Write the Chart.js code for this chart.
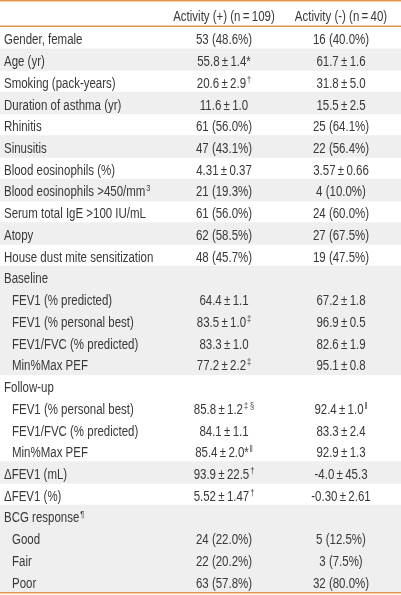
<!DOCTYPE html>
<html>
<head>
<meta charset="utf-8">
<script src="https://cdn.jsdelivr.net/npm/chart.js@4"></script>
<style>
  body { margin: 0; background: #fff; }
  #wrap { width: 401px; height: 595px; }
</style>
</head>
<body>
<div id="wrap"><canvas id="tbl" width="401" height="595"></canvas></div>
<script>
// table content
const columnHeaders = ["Activity (+) (n\u2009=\u2009109)", "Activity (-) (n\u2009=\u200940)"];

const rowLabels = [
  "Gender, female", "Age (yr)", "Smoking (pack-years)", "Duration of asthma (yr)",
  "Rhinitis", "Sinusitis", "Blood eosinophils (%)", "Blood eosinophils >450/mm",
  "Serum total IgE >100 IU/mL", "Atopy", "House dust mite sensitization",
  "Baseline", "FEV1 (% predicted)", "FEV1 (% personal best)", "FEV1/FVC (% predicted)", "Min%Max PEF",
  "Follow-up", "FEV1 (% personal best)", "FEV1/FVC (% predicted)", "Min%Max PEF",
  "\u0394FEV1 (mL)", "\u0394FEV1 (%)",
  "BCG response", "Good", "Fair", "Poor"
];
const labelMarks = ["", "", "", "", "", "", "", "3", "", "", "", "", "", "", "", "", "", "", "", "", "", "", "\u00b6", "", "", ""];

// 1 = sub-row of the group above
const subRow = [0, 0, 0, 0, 0, 0, 0, 0, 0, 0, 0, 0, 1, 1, 1, 1, 0, 1, 1, 1, 0, 0, 0, 1, 1, 1];

const activityPos = [
  "53 (48.6%)", "55.8\u2009\u00b1\u20091.4*", "20.6\u2009\u00b1\u20092.9", "11.6\u2009\u00b1\u20091.0",
  "61 (56.0%)", "47 (43.1%)", "4.31\u2009\u00b1\u20090.37", "21 (19.3%)",
  "61 (56.0%)", "62 (58.5%)", "48 (45.7%)",
  "", "64.4\u2009\u00b1\u20091.1", "83.5\u2009\u00b1\u20091.0", "83.3\u2009\u00b1\u20091.0", "77.2\u2009\u00b1\u20092.2",
  "", "85.8\u2009\u00b1\u20091.2", "84.1\u2009\u00b1\u20091.1", "85.4\u2009\u00b1\u20092.0*",
  "93.9\u2009\u00b1\u200922.5", "5.52\u2009\u00b1\u20091.47",
  "", "24 (22.0%)", "22 (20.2%)", "63 (57.8%)"
];
const activityPosMarks = ["", "", "\u2020", "", "", "", "", "", "", "", "", "", "", "\u2021", "", "\u2021",
  "", "\u2021 \u00a7", "", "\u2016", "\u2020", "\u2020", "", "", "", ""];

const activityNeg = [
  "16 (40.0%)", "61.7\u2009\u00b1\u20091.6", "31.8\u2009\u00b1\u20095.0", "15.5\u2009\u00b1\u20092.5",
  "25 (64.1%)", "22 (56.4%)", "3.57\u2009\u00b1\u20090.66", "4 (10.0%)",
  "24 (60.0%)", "27 (67.5%)", "19 (47.5%)",
  "", "67.2\u2009\u00b1\u20091.8", "96.9\u2009\u00b1\u20090.5", "82.6\u2009\u00b1\u20091.9", "95.1\u2009\u00b1\u20090.8",
  "", "92.4\u2009\u00b1\u20091.0", "83.3\u2009\u00b1\u20092.4", "92.9\u2009\u00b1\u20091.3",
  "-4.0\u2009\u00b1\u200945.3", "-0.30\u2009\u00b1\u20092.61",
  "", "5 (12.5%)", "3 (7.5%)", "32 (80.0%)"
];
const activityNegMarks = ["", "", "", "", "", "", "", "", "", "", "", "", "", "", "", "",
  "", "\u2016", "", "", "", "", "", "", "", ""];

const FONT = "'Liberation Sans', Arimo, Arial, sans-serif";
const SX = 0.82; // squeeze to mimic the condensed face
const TEXT = "#383838";
const RULE = "#e8954c";
const SHADE = "#efefef";
const TABLE_W = 401;
const COL1 = 224, COL2 = 341;

// a group is a top row plus its sub-rows; every other group is shaded
let g = -1;
const stripe = rowLabels.map((_, i) => {
  if (!subRow[i]) g++;
  return g % 2 === 1 ? [0, TABLE_W] : null;
});

function put(ctx, str, x, y, size) {
  ctx.save();
  ctx.font = size + "px " + FONT;
  ctx.translate(x, y);
  ctx.scale(SX, 1);
  ctx.fillText(str, 0, 0);
  ctx.restore();
}

function widthOf(ctx, str, size) {
  ctx.font = size + "px " + FONT;
  return ctx.measureText(str).width * SX;
}

function drawWithMark(ctx, text, mark, cx, y, align) {
  const w = widthOf(ctx, text, 14);
  const mw = mark ? widthOf(ctx, mark, 9) + 1 : 0;
  const x = align === "left" ? cx : cx - (w + mw) / 2;
  put(ctx, text, x, y, 14);
  if (mark) put(ctx, mark, x + w + 1, y - 5, 9);
}

const tableText = {
  id: "tableText",
  afterDatasetsDraw(chart) {
    const { ctx, scales: { x, y }, chartArea } = chart;
    ctx.save();
    ctx.fillStyle = TEXT;
    ctx.textAlign = "left";
    ctx.textBaseline = "alphabetic";

    // header row
    const hy = chartArea.top / 2 + 7;
    drawWithMark(ctx, columnHeaders[0], "", x.getPixelForValue(COL1), hy, "center");
    drawWithMark(ctx, columnHeaders[1], "", x.getPixelForValue(COL2), hy, "center");

    rowLabels.forEach((label, i) => {
      const py = y.getPixelForValue(i) + 6.5;
      drawWithMark(ctx, label, labelMarks[i], x.getPixelForValue(subRow[i] ? 12 : 4), py, "left");
      if (activityPos[i]) drawWithMark(ctx, activityPos[i], activityPosMarks[i], x.getPixelForValue(COL1), py, "center");
      if (activityNeg[i]) drawWithMark(ctx, activityNeg[i], activityNegMarks[i], x.getPixelForValue(COL2), py, "center");
    });

    // rules
    ctx.strokeStyle = RULE;
    ctx.lineWidth = 1.5;
    [0.75, chartArea.top - 0.75, chartArea.bottom + 0.75].forEach((ly) => {
      ctx.beginPath();
      ctx.moveTo(0, ly);
      ctx.lineTo(TABLE_W, ly);
      ctx.stroke();
    });
    ctx.restore();
  }
};

new Chart(document.getElementById("tbl"), {
  type: "bar",
  data: {
    labels: rowLabels,
    datasets: [{
      data: stripe,
      backgroundColor: SHADE,
      borderWidth: 0,
      barPercentage: 1,
      categoryPercentage: 1
    }]
  },
  options: {
    indexAxis: "y",
    responsive: false,
    animation: false,
    devicePixelRatio: 1,
    layout: { padding: { top: 27, bottom: 3, left: 0, right: 0 } },
    plugins: { legend: { display: false }, tooltip: { enabled: false } },
    scales: {
      x: { type: "linear", min: 0, max: TABLE_W, display: false },
      y: { type: "category", display: false, offset: true }
    }
  },
  plugins: [tableText]
});
</script>
</body>
</html>
